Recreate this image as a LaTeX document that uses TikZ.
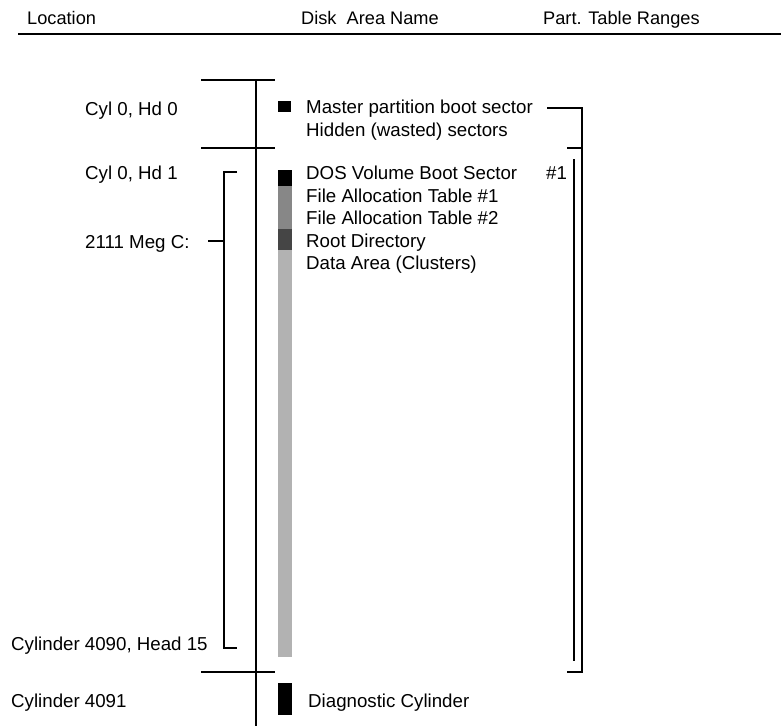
\documentclass[tikz,border=0pt]{standalone}
\usepackage{fontspec}
\setmainfont{Liberation Sans}
\begin{document}
\begin{tikzpicture}[x=1pt,y=-1pt,
  lbl/.style={anchor=base west,inner sep=0pt,font=\fontsize{18.7}{20}\selectfont},
  hdr/.style={anchor=base west,inner sep=0pt,font=\fontsize{18.2}{20}\selectfont},
  ln/.style={line width=1.5pt},
  bar/.style={draw=none,inner sep=0pt,minimum width=14pt,anchor=north west}]
\useasboundingbox (0,0) rectangle (781,726);
% header
\node[hdr] (hloc) at (27,24) {Location};
\node[hdr] (hdisk) at (301,24) {Disk\ \ Area Name};
\node[hdr] (hpart) at (543,24) {Part. Table Ranges};
\draw[line width=2.5pt] (18,34) -- (781,34);
% main vertical and separators
\draw[ln] (256,80) -- (256,726);
\draw[ln] (201,80) -- (275,80);
\draw[ln] (201,148) -- (275,148);
\draw[ln] (201,672) -- (275,672);
% left labels
\node[lbl] (l0) at (85,115) {Cyl 0, Hd 0};
\node[lbl] (l1) at (85,179) {Cyl 0, Hd 1};
\node[lbl] (lc) at (85,248) {2111 Meg C:};
\node[lbl] (l4090) at (11,650) {Cylinder 4090, Head 15};
\node[lbl] (l4091) at (11,707) {Cylinder 4091};
% left bracket
\draw[ln] (237,172) -- (224,172) -- (224,648) -- (237,648);
\draw[ln] (208,241) -- (224,241);
% bars
\node[bar,fill=black,minimum height=11pt,minimum width=13pt] (mbr) at (278,101) {};
\node[bar,fill=black,minimum height=16pt] (dbs) at (278,170) {};
\node[bar,fill=black!47,minimum height=43pt] (fat) at (278,186) {};
\node[bar,fill=black!73,minimum height=21pt] (root) at (278,229) {};
\node[bar,fill=black!30,minimum height=407pt] (data) at (278,250) {};
\node[bar,fill=black,minimum height=32pt] (diag) at (278,683) {};
% area names
\node[lbl] (tm) at (306,113) {Master partition boot sector};
\node[lbl] (th) at (306,136) {Hidden (wasted) sectors};
\node[lbl] (td) at (306,179) {DOS Volume Boot Sector};
\node[lbl] (tf1) at (306,202) {File Allocation Table \#1};
\node[lbl] (tf2) at (306,224) {File Allocation Table \#2};
\node[lbl] (tr) at (306,247) {Root Directory};
\node[lbl] (tda) at (306,269) {Data Area (Clusters)};
\node[lbl] (tdc) at (308,707) {Diagnostic Cylinder};
\node[lbl] (p1) at (546,179) {\#1};
% right brackets
\draw[ln] (547,108) -- (582,108) -- (582,672) -- (567,672);
\draw[ln] (567,148) -- (582,148);
\draw[ln] (574,159) -- (574,661);
\end{tikzpicture}
\end{document}
